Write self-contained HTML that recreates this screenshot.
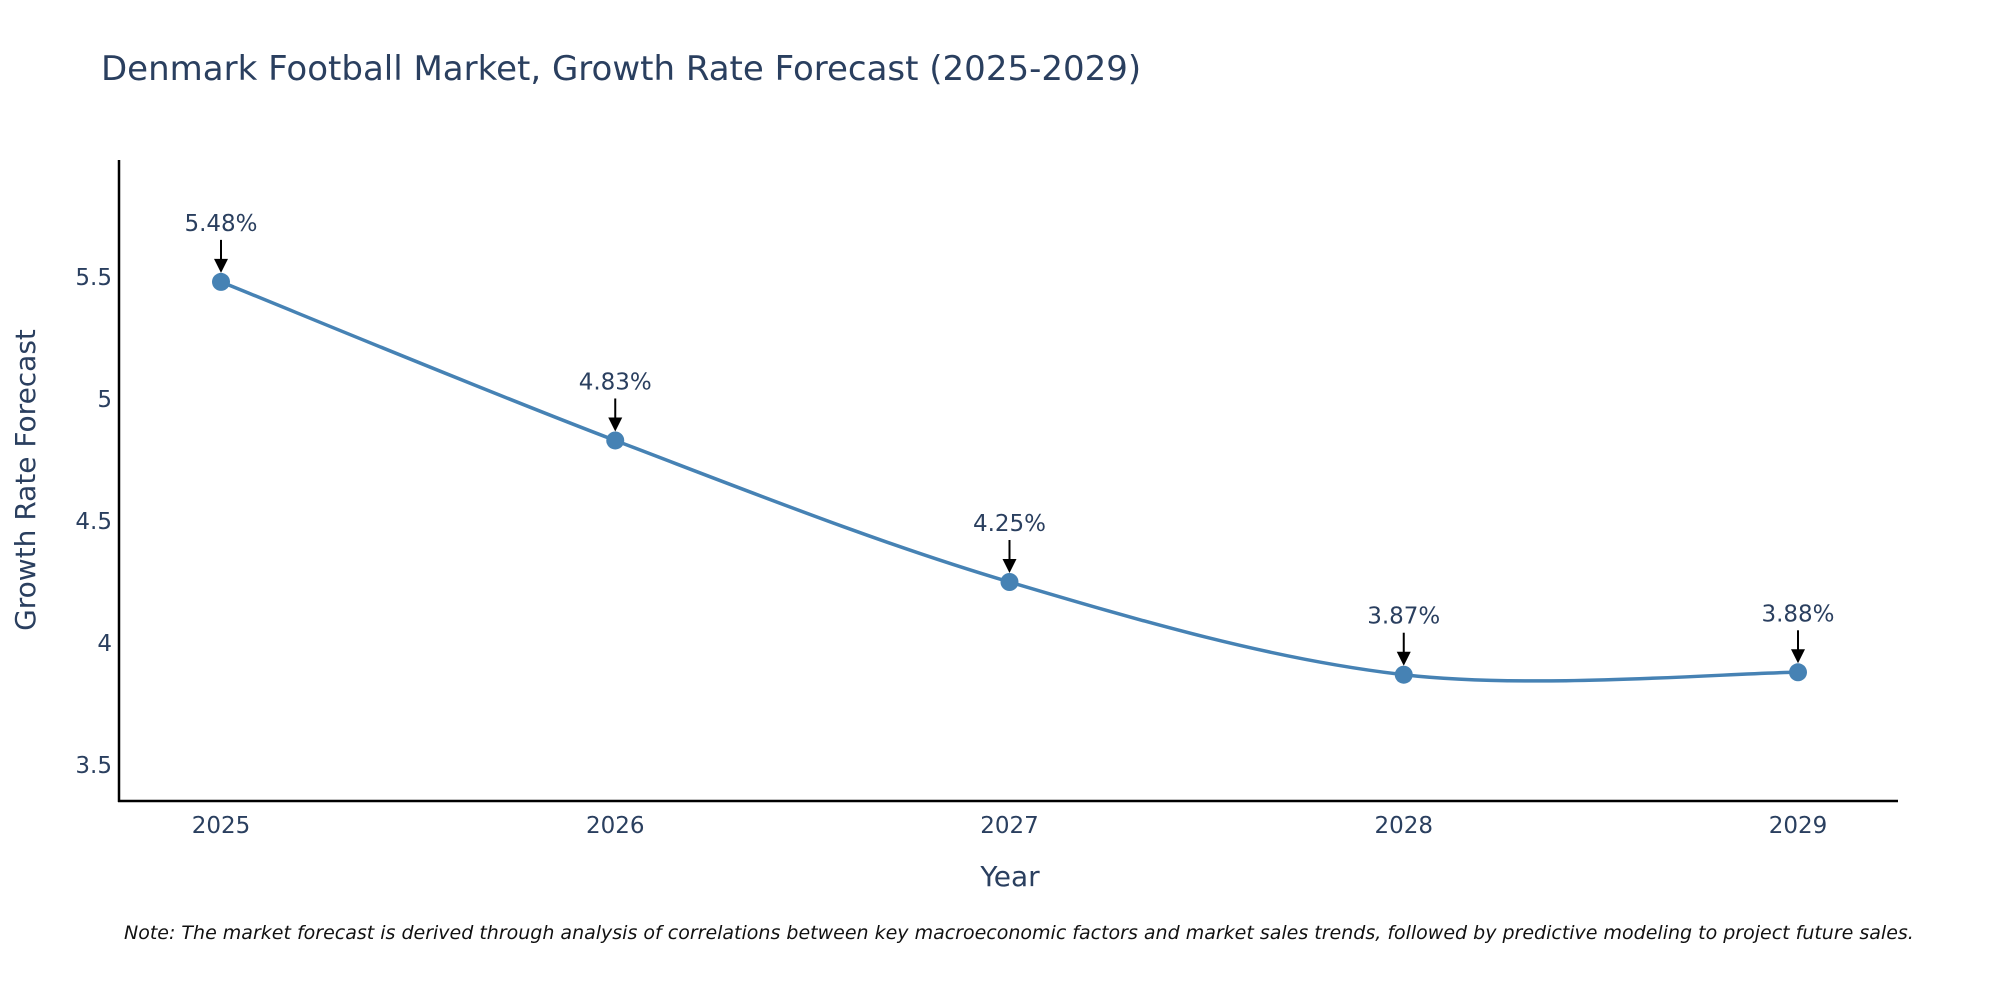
<!DOCTYPE html>
<html><head><meta charset="utf-8"><style>
html,body{margin:0;padding:0;background:#fff;}
svg{display:block;font-family:"DejaVu Sans","Liberation Sans",sans-serif;}
</style></head><body>
<svg id="chart" width="2000" height="1000" viewBox="0 0 2000 1000" xmlns="http://www.w3.org/2000/svg">
<text x="101" y="80" font-size="34" fill="#2a3f5f">Denmark Football Market, Growth Rate Forecast (2025-2029)</text>
<line x1="119" y1="160" x2="119" y2="802" stroke="#000" stroke-width="2.5"/>
<line x1="118" y1="801" x2="1898" y2="801" stroke="#000" stroke-width="2.5"/>
<g id="ticks"></g>
<g id="series"></g>
<g id="annots"></g>
<text x="1010" y="886" font-size="28" fill="#2a3f5f" text-anchor="middle">Year</text>
<text transform="translate(35,480) rotate(-90)" font-size="28" fill="#2a3f5f" text-anchor="middle">Growth Rate Forecast</text>
<text x="124" y="939" font-size="19" font-style="italic" fill="#111">Note: The market forecast is derived through analysis of correlations between key macroeconomic factors and market sales trends, followed by predictive modeling to project future sales.</text>
</svg>
<script>
const years = [2025, 2026, 2027, 2028, 2029];
const growth = [5.48, 4.83, 4.25, 3.87, 3.88];
const labels = ["5.48%", "4.83%", "4.25%", "3.87%", "3.88%"];
const yTicks = [3.5, 4, 4.5, 5, 5.5];
const yTickLabels = ["3.5", "4", "4.5", "5", "5.5"];

const NS = "http://www.w3.org/2000/svg";
function xs(v){ return 221 + (v - 2025) * (1798 - 221) / 4; }
function ys(v){ return 643 - (v - 4) * 244; }
function mk(tag, attrs, parent, txt){
  const e = document.createElementNS(NS, tag);
  for (const k in attrs) e.setAttribute(k, attrs[k]);
  if (txt !== undefined) e.textContent = txt;
  parent.appendChild(e); return e;
}
const ticks = document.getElementById('ticks');
yTicks.forEach((t, i) => {
  const el = mk('text', {x: 112, y: ys(t) + 8, 'font-size': 23, fill: '#2a3f5f', 'text-anchor': 'end'}, ticks, yTickLabels[i]);
  
  
});
years.forEach(y => {
  const el = mk('text', {x: xs(y), y: 833, 'font-size': 23, fill: '#2a3f5f', 'text-anchor': 'middle'}, ticks, String(y));
  
  
});
const pts = years.map((y, i) => [xs(y), ys(growth[i])]);
let d = `M${pts[0][0]},${pts[0][1]}`;
for (let i = 0; i < pts.length - 1; i++) {
  const p0 = pts[Math.max(0, i - 1)], p1 = pts[i], p2 = pts[i + 1], p3 = pts[Math.min(pts.length - 1, i + 2)];
  const t = 1/6;
  const c1 = [p1[0] + (p2[0] - p0[0]) * t, p1[1] + (p2[1] - p0[1]) * t];
  const c2 = [p2[0] - (p3[0] - p1[0]) * t, p2[1] - (p3[1] - p1[1]) * t];
  d += ` C${c1[0]},${c1[1]} ${c2[0]},${c2[1]} ${p2[0]},${p2[1]}`;
}
const series = document.getElementById('series');
const line = mk('path', {d: d, fill: 'none', stroke: '#4682b4', 'stroke-width': 3.5}, series);


pts.forEach(p => {
  const c = mk('circle', {cx: p[0], cy: p[1], r: 9, fill: '#4682b4'}, series);
  
  
});
const an = document.getElementById('annots');
pts.forEach((p, i) => {
  const tip = p[1] - 9;
  const l = mk('line', {x1: p[0], y1: p[1] - 42, x2: p[0], y2: tip - 10, stroke: '#000', 'stroke-width': 2}, an);
  
  
  const h = mk('polygon', {points: `${p[0]-7},${tip-14} ${p[0]+7},${tip-14} ${p[0]},${tip}`, fill: '#000'}, an);
  
  
  const t = mk('text', {x: p[0], y: p[1] - 51, 'font-size': 23, fill: '#2a3f5f', 'text-anchor': 'middle'}, an, labels[i]);
  
  
});
</script>
</body></html>
